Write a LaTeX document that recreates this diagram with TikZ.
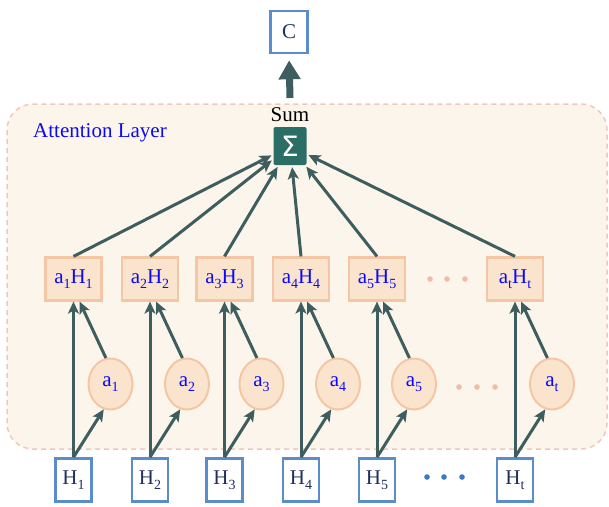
\documentclass[tikz,border=0pt]{standalone}
\usepackage{fontspec}
\setmainfont{Liberation Serif}
\newfontfamily\sigmafont{DejaVu Sans}
\usetikzlibrary{arrows.meta,shapes.geometric,calc}

\definecolor{linkcol}{HTML}{3E5D5E}
\definecolor{sigmafill}{HTML}{2B6E66}
\definecolor{layerfill}{HTML}{FCF5EC}
\definecolor{layeredge}{HTML}{F2C6BC}
\definecolor{peachfill}{HTML}{FBE4CE}
\definecolor{peachedge}{HTML}{F5C6A4}
\definecolor{peachdot}{HTML}{F4BBA4}
\definecolor{inedge}{HTML}{5B8CCC}
\definecolor{intext}{HTML}{1F2F5F}
\definecolor{labelblue}{HTML}{0A0AF5}
\definecolor{dotblue}{HTML}{3A78C8}

% lowered small index
\newcommand{\idx}[1]{\raisebox{-5pt}{\fontsize{14}{14}\selectfont #1}}

\begin{document}
\begin{tikzpicture}[x=1pt,y=-1pt,
  font=\fontsize{21}{23}\selectfont,
  inbox/.style={draw=inedge, line width=2.6pt, fill=white, minimum width=36pt,
    minimum height=43pt, inner sep=0pt, text=intext},
  prodbox/.style={draw=peachedge, line width=2.2pt, fill=peachfill, minimum width=56pt,
    minimum height=43pt, inner sep=0pt, text=labelblue},
  weight/.style={ellipse, draw=peachedge, line width=2pt, fill=peachfill,
    minimum width=44pt, minimum height=51pt, inner sep=0pt, text=labelblue},
  link/.style={draw=linkcol, line width=3pt,
    -{Stealth[length=12pt,width=11pt,inset=3pt]}},
  bigarrow/.style={draw=linkcol, line width=7pt,
    -{Triangle[length=19pt,width=21pt]}}
]
\useasboundingbox (0,0) rectangle (609,506);

% attention layer panel
\draw[fill=layerfill, draw=layeredge, line width=1.5pt, dash pattern=on 5pt off 4pt,
  rounded corners=26pt] (7,104) rectangle (607,449);
\node[anchor=west, text=labelblue, inner sep=0pt] (layername) at (33,133) {Attention Layer};

% output and sum
\node[inbox, minimum width=37pt, minimum height=42pt] (C) at (289,32) {C};
\node[inner sep=0pt] (sumlbl) at (290,115) {Sum};
\node[fill=sigmafill, rounded corners=2pt, minimum width=33pt, minimum height=38pt,
  inner sep=0pt, text=white, font=\sigmafont\fontsize{28}{28}\selectfont] (sigma) at (290,146) {Σ};
\coordinate (sumtop) at (290,98);
\draw[bigarrow, shorten >=6pt] (sumtop) -- (C.south);

% columns
\foreach \i/\x in {1/73.5, 2/150, 3/224.5, 4/301, 5/377, t/515}{
  \node[inbox] (H\i) at (\x,480) {H\idx{\i}};
  \node[prodbox] (p\i) at (\x,279) {a\idx{\i}H\idx{\i}};
  \node[weight] (w\i) at (\x+37,384) {a\idx{\i}};
  \draw[link] (H\i.north) -- (p\i.south);
  \draw[link] (H\i.north) -- (w\i.255);
  \draw[link] (w\i.100) -- (p\i.-75);
  \draw[link, shorten >=2pt] (p\i.north) -- (sigma);
}

% ellipsis dots
\foreach \x in {430,447,465}{\fill[peachdot] (\x,279) circle (2.8pt);}
\foreach \x in {459,477,495}{\fill[peachdot] (\x,387) circle (2.8pt);}
\foreach \x in {427,444,462}{\fill[dotblue] (\x,477) circle (2.8pt);}
\end{tikzpicture}
\end{document}
